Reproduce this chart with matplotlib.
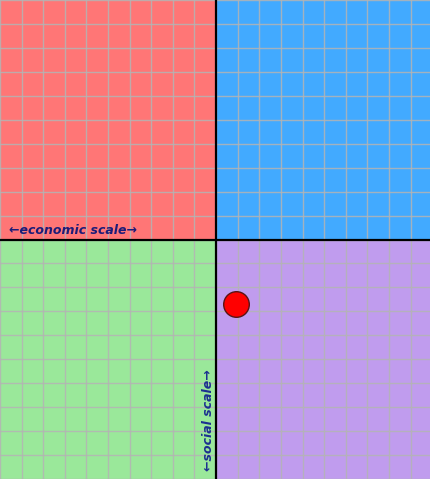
"""Political compass style chart with a single plotted position."""

import matplotlib

matplotlib.use("Agg")
import matplotlib.pyplot as plt
import numpy as np

# chart data
axis_range = [-10, 10]
grid_ticks = list(range(-10, 11))
point_x = [0.93]
point_y = [-2.69]
economic_label = "\u2190economic scale\u2192"
social_label = "\u2190social scale\u2192"

QUADRANT_COLORS = {
    "top_left": "#ff7676",
    "top_right": "#42aaff",
    "bottom_left": "#9ae89a",
    "bottom_right": "#c09cee",
}


def main():
    fig = plt.figure(figsize=(4.30, 4.79), dpi=100)
    ax = fig.add_axes([0, 0, 1, 1])

    lo, hi = axis_range
    ax.set_xlim(lo, hi - 0.1)
    ax.set_ylim(lo, hi)

    # quadrant backgrounds
    ax.axvspan(lo, 0, ymin=0.5, ymax=1, color=QUADRANT_COLORS["top_left"], lw=0, zorder=0)
    ax.axvspan(0, hi, ymin=0.5, ymax=1, color=QUADRANT_COLORS["top_right"], lw=0, zorder=0)
    ax.axvspan(lo, 0, ymin=0, ymax=0.5, color=QUADRANT_COLORS["bottom_left"], lw=0, zorder=0)
    ax.axvspan(0, hi, ymin=0, ymax=0.5, color=QUADRANT_COLORS["bottom_right"], lw=0, zorder=0)

    # grid
    for t in grid_ticks:
        ax.axvline(t, color="#b4b4b4", lw=1.0, alpha=0.85, zorder=1)
        ax.axhline(t, color="#b4b4b4", lw=1.0, alpha=0.85, zorder=1)

    # centre axes
    ax.axvline(0, color="black", lw=1.6, zorder=2)
    ax.axhline(0, color="black", lw=1.6, zorder=2)

    ax.text(-9.6, 0.1, economic_label, fontsize=9, fontstyle="italic",
            fontweight="bold", color="#1c1c78", ha="left", va="bottom", zorder=3)
    ax.text(-0.04, -9.65, social_label, fontsize=9, fontstyle="italic",
            fontweight="bold", color="#1c3090", rotation=90,
            ha="right", va="bottom", zorder=3)

    ax.scatter(point_x, point_y, s=340, color="#ff0000", edgecolor="#5a1414",
               linewidth=1.0, zorder=4)

    ax.set_axis_off()
    fig.savefig("out.png", dpi=100)
    plt.close(fig)


if __name__ == "__main__":
    main()
